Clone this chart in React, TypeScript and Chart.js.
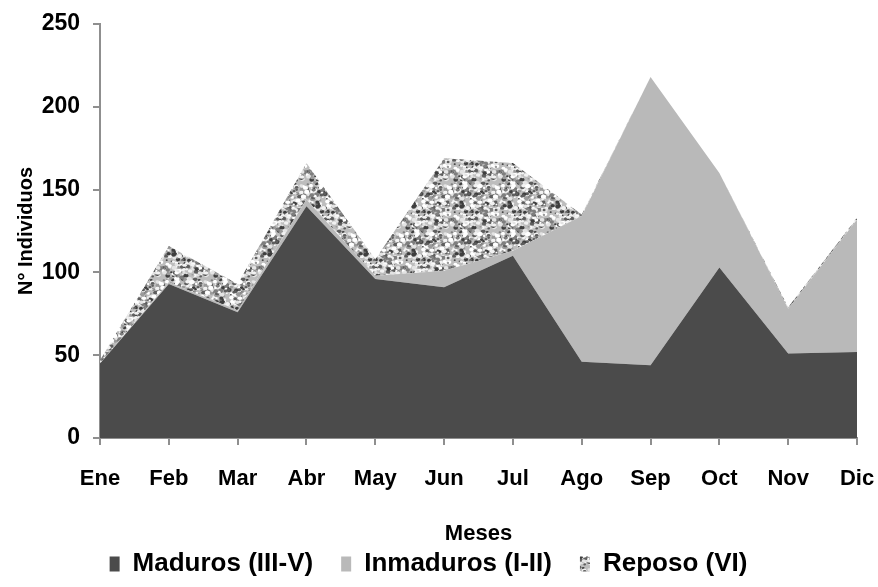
import React, { useEffect, useRef } from "react";
import { Chart, registerables } from "chart.js";

Chart.register(...registerables);

const months = ["Ene", "Feb", "Mar", "Abr", "May", "Jun", "Jul", "Ago", "Sep", "Oct", "Nov", "Dic"];
const maduros = [45, 93, 76, 140, 96, 91, 110, 46, 44, 103, 51, 52];
const inmaduros = [0, 1, 1, 4, 2, 10, 3, 88, 174, 57, 27, 80];
const reposo = [2, 22, 16, 22, 10, 68, 53, 1, 0, 0, 1, 1];
const yTicks = [0, 50, 100, 150, 200, 250];

const FONT = "'Liberation Sans', Arial, sans-serif";

function makeSpeckle(): CanvasPattern | string {
  const c = document.createElement("canvas");
  c.width = 48;
  c.height = 48;
  const g = c.getContext("2d");
  if (!g) return "#a8a8a8";
  g.fillStyle = "#bdbdbd";
  g.fillRect(0, 0, 48, 48);
  let s = 987654321;
  const rnd = () => {
    s = (s * 1103515245 + 12345) % 2147483648;
    return s / 2147483648;
  };
  const cols = ["#3e3e3e", "#5e5e5e", "#7e7e7e", "#ffffff", "#f2f2f2", "#e4e4e4", "#ffffff", "#9a9a9a"];
  for (let i = 0; i < 380; i++) {
    const x = rnd() * 48;
    const y = rnd() * 48;
    const r = 0.8 + rnd() * 1.9;
    g.fillStyle = cols[Math.floor(rnd() * cols.length)];
    for (const dx of [-48, 0, 48]) {
      for (const dy of [-48, 0, 48]) {
        g.beginPath();
        g.ellipse(x + dx, y + dy, r, r * 0.8, 0, 0, Math.PI * 2);
        g.fill();
      }
    }
  }
  const p = g.createPattern(c, "repeat");
  return p || "#a8a8a8";
}

export default function App() {
  const ref = useRef<HTMLCanvasElement | null>(null);

  useEffect(() => {
    document.body.style.margin = "0";
    const canvas = ref.current;
    if (!canvas) return;
    const speckle = makeSpeckle();
    const axisColor = "#8f8f8f";
    const chart = new Chart(canvas, {
      type: "line",
      data: {
        labels: months,
        datasets: [
          {
            label: "Maduros (III-V)",
            data: maduros,
            backgroundColor: "#4b4b4b",
            borderColor: "#4b4b4b",
            borderWidth: 0,
            pointRadius: 0,
            fill: "origin",
            tension: 0,
          },
          {
            label: "Inmaduros (I-II)",
            data: inmaduros,
            backgroundColor: "#b9b9b9",
            borderColor: "#b9b9b9",
            borderWidth: 0,
            pointRadius: 0,
            fill: "-1",
            tension: 0,
          },
          {
            label: "Reposo (VI)",
            data: reposo,
            backgroundColor: speckle as any,
            borderColor: "#b0b0b0",
            borderWidth: 0,
            pointRadius: 0,
            fill: "-1",
            tension: 0,
          },
        ],
      },
      options: {
        responsive: true,
        maintainAspectRatio: false,
        animation: false,
        layout: { autoPadding: false, padding: { top: 24, right: 21, left: 0, bottom: 0 } },
        plugins: {
          tooltip: { enabled: false },
          legend: {
            display: true,
            position: "bottom",
            labels: {
              color: "#000",
              boxWidth: 10,
              boxHeight: 15,
              padding: 28,
              font: { family: FONT, size: 26, weight: "bold" },
            },
          },
        },
        scales: {
          x: {
            type: "category",
            offset: false,
            grid: {
              display: true,
              drawOnChartArea: false,
              drawTicks: true,
              tickLength: 7,
              color: axisColor,
              lineWidth: 2,
            },
            border: { display: true, color: axisColor, width: 2 },
            ticks: {
              color: "#000",
              padding: 21,
              maxRotation: 0,
              autoSkip: false,
              font: { family: FONT, size: 22, weight: "bold" },
            },
            title: {
              display: true,
              text: "Meses",
              color: "#000",
              padding: { top: 0, bottom: -24 },
              font: { family: FONT, size: 22, weight: "bold" },
            },
            afterFit: (scale: any) => {
              scale.height = 85;
              scale.paddingLeft = 0;
              scale.paddingRight = 0;
            },
          },
          y: {
            stacked: true,
            min: 0,
            max: 250,
            afterBuildTicks: (scale: any) => {
              scale.ticks = yTicks.map((v) => ({ value: v }));
            },
            grid: {
              display: true,
              drawOnChartArea: false,
              drawTicks: true,
              tickLength: 7,
              color: axisColor,
              lineWidth: 2,
            },
            border: { display: true, color: axisColor, width: 2 },
            ticks: {
              color: "#000",
              padding: 13,
              font: { family: FONT, size: 23, weight: "bold" },
            },
            title: {
              display: true,
              text: "N° Individuos",
              color: "#000",
              padding: { top: 14, bottom: 0 },
              font: { family: FONT, size: 20, weight: "bold" },
            },
            afterFit: (scale: any) => {
              scale.width = 100;
              scale.paddingTop = 0;
              scale.paddingBottom = 0;
            },
          },
        },
      },
    });
    return () => chart.destroy();
  }, []);

  return (
    <div style={{ width: 878, height: 587, position: "relative" }}>
      <canvas ref={ref} />
    </div>
  );
}
